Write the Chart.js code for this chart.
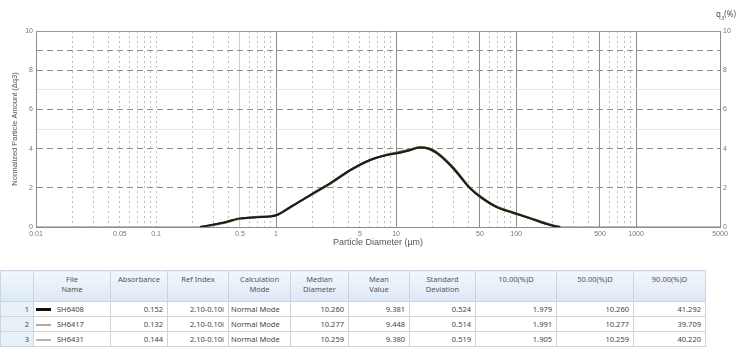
<!DOCTYPE html>
<html>
<head>
<meta charset="utf-8">
<script src="https://cdn.jsdelivr.net/npm/chart.js@4/dist/chart.umd.min.js"></script>
<style>
  body { margin: 0; background: #fff; width: 756px; height: 354px; overflow: hidden; position: relative; font-family: "Noto Sans", "DejaVu Sans", sans-serif; }
  #chart-box { position: absolute; left: 0; top: 0; width: 756px; height: 252px; }
  #q3-label { position: absolute; left: 716px; top: 8px; font-size: 8px; color: #555; }
  #result-table { position: absolute; left: 0; top: 270px; border-collapse: collapse; table-layout: fixed; font-size: 7.5px; color: #444; }
  #result-table th { height: 27px; vertical-align: top; padding: 3px 2px 0 2px; font-weight: normal; text-align: center; line-height: 10px;
    background: linear-gradient(#f2f7fc, #dde9f5); border: 1px solid #c8d6e4; color: #555; }
  #result-table td { height: 14px; padding: 0 4px; border: 1px solid #d3d3d3; text-align: right; white-space: nowrap; }
  #result-table td.num { background: #e8f0f8; border-color: #c8d6e4; }
  #result-table td.name { text-align: left; padding-left: 2px; }
  #result-table td.mode { text-align: left; padding-left: 2px; }
  .sample { display: inline-block; width: 15px; vertical-align: middle; margin-right: 6px; }
</style>
</head>
<body>
<div id="chart-box"><canvas id="psd" width="756" height="252"></canvas></div>
<div id="q3-label">q<sub style="font-size:6px">3</sub>(%)</div>
<table id="result-table"></table>
<script>
document.addEventListener("DOMContentLoaded", () => {
  // Particle diameters (µm) read along the log axis
  const diameters = [0.01, 0.05, 0.1, 0.233, 0.36, 0.5, 0.7, 0.89, 1.02, 1.31, 1.92, 2.82, 4.14, 6.07, 8.41,
    10.2, 13, 15.8, 19, 22, 29.9, 41.4, 50, 69.5, 94, 131, 192, 233, 500, 1000, 5000];

  // q3 distribution of the three measurements
  const run1 = [null, null, null, 0, 0.22, 0.44, 0.5, 0.53, 0.61, 1.0, 1.63, 2.23, 2.9, 3.42, 3.67,
    3.76, 3.92, 4.05, 3.98, 3.76, 3.0, 1.97, 1.55, 1.0, 0.73, 0.44, 0.1, 0, null, null, null];
  const run2 = [null, null, null, 0, 0.2, 0.42, 0.52, 0.55, 0.63, 1.02, 1.6, 2.2, 2.88, 3.4, 3.7,
    3.8, 3.95, 4.08, 4.0, 3.8, 3.05, 2.0, 1.58, 1.03, 0.75, 0.46, 0.12, 0, null, null, null];
  const run3 = [0, 0, 0, 0, 0.21, 0.43, 0.49, 0.52, 0.6, 0.98, 1.62, 2.25, 2.92, 3.44, 3.66,
    3.74, 3.9, 4.02, 3.95, 3.72, 2.96, 1.94, 1.52, 0.98, 0.7, 0.42, 0.09, 0, 0, 0, 0];

  const xTickLabels = [0.01, 0.05, 0.1, 0.5, 1, 5, 10, 50, 100, 500, 1000, 5000];
  const xSolidLines = [1, 10, 50, 100, 500, 1000];
  const yTickLabels = [0, 2, 4, 6, 8, 10];
  const yDashedLines = [2, 4, 6, 8, 9];
  const yFaintLines = [5, 7];

  // Table rows
  const fileNames = ["SH6408", "SH6417", "SH6431"];
  const absorbance = ["0.152", "0.132", "0.144"];
  const refIndex = ["2.10-0.10i", "2.10-0.10i", "2.10-0.10i"];
  const calcMode = ["Normal Mode", "Normal Mode", "Normal Mode"];
  const medianDiameter = ["10.260", "10.277", "10.259"];
  const meanValue = ["9.381", "9.448", "9.380"];
  const stdDeviation = ["0.524", "0.514", "0.519"];
  const d10 = ["1.979", "1.991", "1.905"];
  const d50 = ["10.260", "10.277", "10.259"];
  const d90 = ["41.292", "39.709", "40.220"];
  const headers = ["", "File<br>Name", "Absorbance", "Ref Index", "Calculation<br>Mode", "Median<br>Diameter",
    "Mean<br>Value", "Standard<br>Deviation", "10.00(%)D", "50.00(%)D", "90.00(%)D"];
  const colWidths = [33, 77, 57, 61, 62, 58, 61, 66, 81, 77, 72];
  const sampleStyles = ["3px solid #111", "2px solid #aaa", "2px solid #b5b5b5"];

  // log grid: 1..9 times every decade
  const xGridValues = [];
  for (let e = -2; e <= 3; e++) {
    for (let m = 1; m <= 9; m++) {
      const v = Number((m * Math.pow(10, e)).toPrecision(3));
      if (v <= 5000) xGridValues.push(v);
    }
  }
  const near = (list, v) => list.some((t) => Math.abs(t - v) / t < 1e-6);

  const line = (data, color, width) => ({
    data: diameters.map((d, i) => ({ x: d, y: data[i] })),
    borderColor: color,
    borderWidth: width,
    pointRadius: 0,
    cubicInterpolationMode: "monotone",
    spanGaps: false,
  });

  new Chart(document.getElementById("psd"), {
    type: "line",
    data: {
      datasets: [
        line(run1, "#1c1c1c", 2),
        line(run2, "#8a6a42", 2.2),
        line(run3, "#5c9a4a", 1.2),
      ],
    },
    options: {
      responsive: false,
      animation: false,
      layout: { padding: { top: 31, left: 0, right: 0, bottom: 0 } },
      plugins: { legend: { display: false }, tooltip: { enabled: false } },
      scales: {
        x: {
          type: "logarithmic",
          min: 0.01,
          max: 5000,
          afterBuildTicks: (s) => { s.ticks = xGridValues.map((v) => ({ value: v })); },
          afterFit: (s) => { s.height = 25; },
          ticks: {
            autoSkip: false,
            maxRotation: 0,
            padding: 3,
            color: "#777",
            font: { size: 7 },
            callback: (v) => (near(xTickLabels, v) ? String(v) : ""),
          },
          grid: {
            drawTicks: false,
            lineWidth: 1,
            color: (ctx) => {
              const v = ctx.tick && ctx.tick.value;
              if (v == null) return "#999";
              if (near(xSolidLines, v)) return "#8c8c8c";
              if (near([0.5], v)) return "#cfcfcf";
              if (v > 1000 || v === 0.01) return "rgba(0,0,0,0)";
              return "#c0c0c0";
            },
          },
          border: {
            color: "#8c8c8c",
            dash: (ctx) => {
              const v = ctx.tick && ctx.tick.value;
              if (v == null || near(xSolidLines, v) || near([0.5], v)) return [];
              return [2, 3];
            },
          },
          title: { display: true, text: "Particle Diameter (µm)", color: "#555", font: { size: 9 }, padding: { top: 0, bottom: 4 } },
        },
        y: {
          position: "left",
          min: 0,
          max: 10,
          afterFit: (s) => { s.width = 36; },
          ticks: {
            stepSize: 1,
            padding: 3,
            color: "#777",
            font: { size: 7 },
            callback: (v) => (yTickLabels.includes(v) ? String(v) : ""),
          },
          grid: {
            drawTicks: false,
            color: (ctx) => {
              const v = ctx.tick && ctx.tick.value;
              if (v == null) return "#999";
              if (yDashedLines.includes(v)) return "#8e8e8e";
              if (yFaintLines.includes(v)) return "#e6e6e6";
              if (v === 10 || v === 0) return "#9a9a9a";
              return "rgba(0,0,0,0)";
            },
          },
          border: {
            color: "#8c8c8c",
            dash: (ctx) => {
              const v = ctx.tick && ctx.tick.value;
              return yDashedLines.includes(v) ? [6, 4] : [];
            },
          },
          title: { display: true, text: "Normalized Particle Amount (Δq3)", color: "#555", font: { size: 7.5 }, padding: { top: 10, bottom: 0 } },
        },
        y2: {
          position: "right",
          min: 0,
          max: 10,
          afterFit: (s) => { s.width = 36; },
          ticks: { stepSize: 2, padding: 3, color: "#777", font: { size: 7 } },
          grid: { drawOnChartArea: false, drawTicks: false },
          border: { color: "#8c8c8c" },
        },
      },
    },
  });

  // Build results table
  const table = document.getElementById("result-table");
  let html = "<colgroup>" + colWidths.map((w) => `<col style="width:${w}px">`).join("") + "</colgroup>";
  html += "<tr>" + headers.map((h) => `<th>${h}</th>`).join("") + "</tr>";
  fileNames.forEach((name, i) => {
    html += `<tr>
      <td class="num">${i + 1}</td>
      <td class="name"><span class="sample" style="border-top:${sampleStyles[i]}"></span>${name}</td>
      <td>${absorbance[i]}</td>
      <td>${refIndex[i]}</td>
      <td class="mode">${calcMode[i]}</td>
      <td>${medianDiameter[i]}</td>
      <td>${meanValue[i]}</td>
      <td>${stdDeviation[i]}</td>
      <td>${d10[i]}</td>
      <td>${d50[i]}</td>
      <td>${d90[i]}</td>
    </tr>`;
  });
  table.style.width = colWidths.reduce((a, b) => a + b, 0) + "px";
  table.innerHTML = html;
});
</script>
</body>
</html>
